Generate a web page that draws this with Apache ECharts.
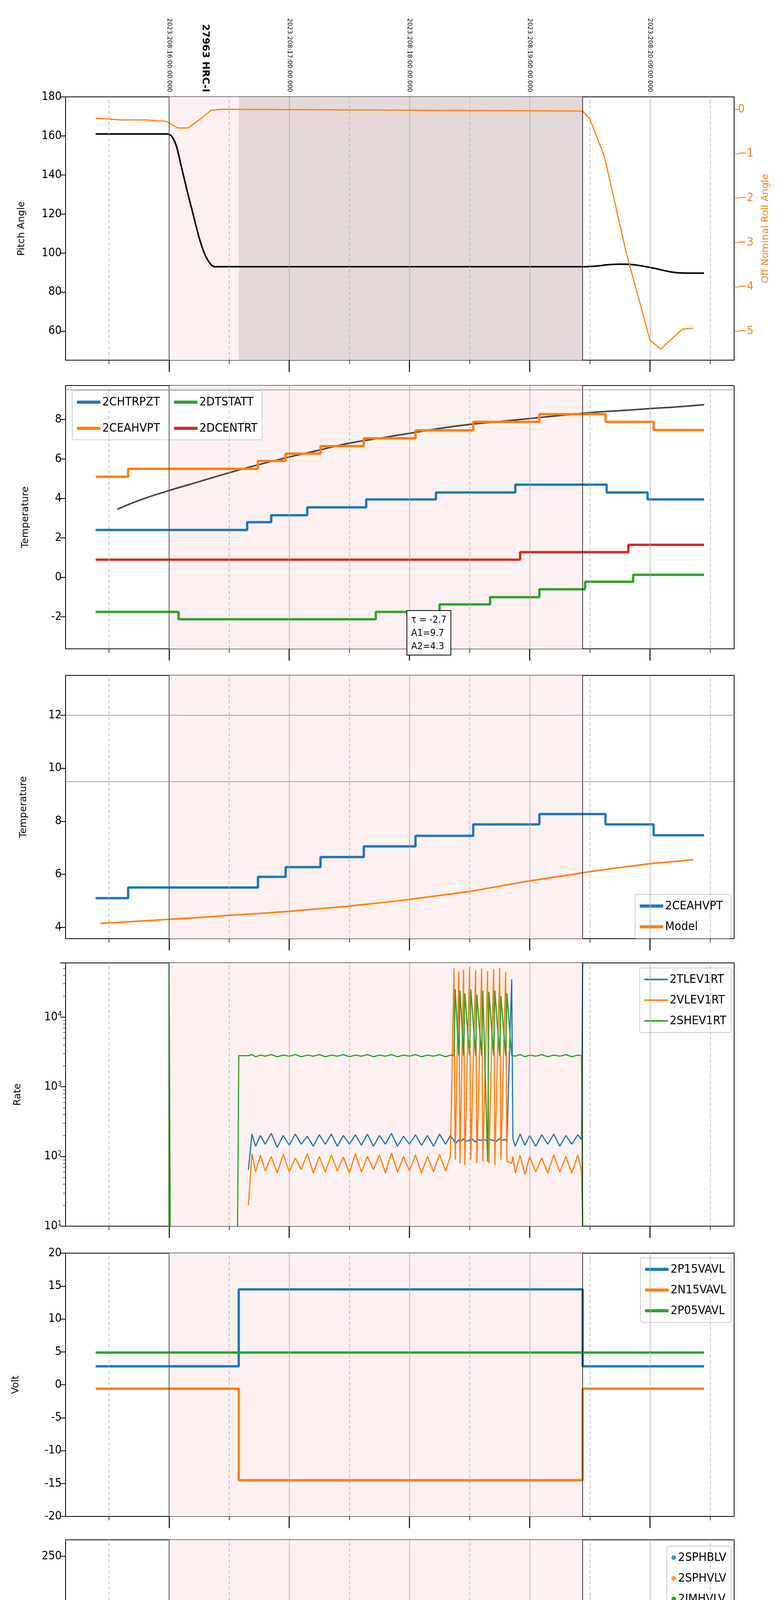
<!DOCTYPE html>
<html>
<head>
<meta charset="utf-8">
<script src="https://cdn.jsdelivr.net/npm/echarts@6/dist/echarts.min.js"></script>
<style>
  html, body { margin: 0; padding: 0; background: #fff; }
  #chart { width: 2000px; height: 6200px; }
</style>
</head>
<body>
<div id="chart"></div>
<script>
// --- データ (時間は時 単位) ---
const hourTicks = [12, 13, 14, 15, 16];
const hourLabels = ['12h', '13h', '14h', '15h', '16h'];
const halfTicks = [11.5, 12.5, 13.5, 14.5, 15.5, 16.5];
const topLabels = ['2023:208:16:00:00.000', '2023:208:17:00:00.000', '2023:208:18:00:00.000', '2023:208:19:00:00.000', '2023:208:20:00:00.000'];
const obsLabel = '27963 HRC-I';
const obsTime = 12.3;
const obsStart = 12.0, obsEnd = 15.44, hvStart = 12.58;

// パネル1
const pitchT = [11.39, 11.98, 12.02, 12.06, 12.1, 12.15, 12.2, 12.25, 12.3, 12.35, 12.38, 15.44, 15.55, 15.65, 15.75, 15.85, 15.95, 16.05, 16.15, 16.25, 16.45];
const pitchV = [161, 161, 160, 155, 145, 132, 120, 108, 99, 94, 93, 93, 93.3, 94.0, 94.3, 94.1, 93.2, 92.0, 90.6, 89.8, 89.7];
const rollT = [11.39, 11.6, 11.8, 11.98, 12.07, 12.16, 12.27, 12.35, 12.43, 15.44, 15.5, 15.62, 15.8, 16.0, 16.09, 16.27, 16.36];
const rollV = [-0.2, -0.24, -0.24, -0.27, -0.42, -0.42, -0.2, -0.02, 0, -0.04, -0.22, -1.05, -3.2, -5.2, -5.4, -4.95, -4.93];

// パネル2
const fitT = [11.57, 11.75, 12.0, 12.25, 12.5, 12.75, 13.0, 13.25, 13.5, 13.75, 14.0, 14.25, 14.5, 14.75, 15.0, 15.25, 15.5, 15.75, 16.0, 16.25, 16.45];
const fitV = [3.45, 3.9, 4.4, 4.85, 5.3, 5.72, 6.1, 6.45, 6.8, 7.05, 7.3, 7.55, 7.75, 7.9, 8.05, 8.2, 8.35, 8.45, 8.55, 8.65, 8.75];
const chtrpztT = [11.39, 12.65, 12.85, 13.15, 13.64, 14.22, 14.88, 15.64, 15.98, 16.45];
const chtrpztV = [2.4, 2.8, 3.15, 3.55, 3.95, 4.3, 4.7, 4.3, 3.95, 3.95];
const ceahvptT = [11.39, 11.66, 12.74, 12.97, 13.26, 13.62, 14.05, 14.53, 15.08, 15.63, 16.03, 16.45];
const ceahvptV = [5.1, 5.5, 5.9, 6.27, 6.65, 7.05, 7.45, 7.88, 8.27, 7.88, 7.47, 7.47];
const dtstattT = [11.39, 12.08, 13.72, 14.25, 14.67, 15.08, 15.46, 15.86, 16.45];
const dtstattV = [-1.75, -2.12, -1.75, -1.37, -1.0, -0.6, -0.22, 0.13, 0.13];
const dcentrtT = [11.39, 14.92, 15.82, 16.45];
const dcentrtV = [0.9, 1.28, 1.65, 1.65];
const fitText = 'τ = -2.7\nA1=9.7\nA2=4.3';

// パネル3
const modelT = [11.43, 11.7, 12.0, 12.25, 12.5, 12.75, 13.0, 13.25, 13.5, 13.75, 14.0, 14.25, 14.5, 14.75, 15.0, 15.25, 15.5, 15.75, 16.0, 16.2, 16.36];
const modelV = [4.15, 4.22, 4.3, 4.37, 4.45, 4.52, 4.6, 4.7, 4.8, 4.92, 5.05, 5.2, 5.35, 5.55, 5.75, 5.92, 6.1, 6.25, 6.4, 6.48, 6.55];

// パネル4 (レート)
const rateT = [12.57, 12.58, 12.66, 12.69, 12.72, 12.76, 12.8, 12.85, 12.9, 12.95, 13.0, 13.05, 13.1, 13.15, 13.2, 13.25, 13.3, 13.35, 13.4, 13.45,
  13.5, 13.55, 13.6, 13.65, 13.7, 13.75, 13.8, 13.85, 13.9, 13.95, 14.0, 14.05, 14.1, 14.15, 14.2, 14.25, 14.3, 14.34,
  14.37, 14.38, 14.41, 14.42, 14.45, 14.46, 14.5, 14.51, 14.55, 14.56, 14.6, 14.61, 14.65, 14.66, 14.7, 14.71, 14.75, 14.76, 14.8, 14.81,
  14.85, 14.86, 14.88, 14.92, 14.96, 15.0, 15.05, 15.1, 15.15, 15.2, 15.25, 15.3, 15.35, 15.4, 15.43, 15.44];
const tlev1rtV = [null, null, 65, 210, 140, 200, 150, 215, 135, 200, 145, 210, 150, 195, 140, 205, 150, 210, 140, 200,
  150, 205, 145, 210, 140, 200, 150, 215, 140, 195, 150, 205, 145, 200, 140, 210, 150, 200,
  170, 150, 175, 160, 180, 165, 170, 185, 160, 175, 170, 180, 165, 175, 170, 160, 180, 170, 175, 160,
  35000, 180, 140, 210, 145, 200, 140, 205, 150, 210, 140, 200, 150, 205, 175, 60000];
const vlev1rtV = [null, null, 20, 110, 60, 105, 62, 100, 58, 108, 60, 95, 65, 110, 58, 100, 60, 105, 62, 98,
  58, 110, 60, 100, 65, 105, 58, 112, 60, 100, 62, 105, 58, 100, 60, 108, 62, 100,
  50000, 90, 45000, 80, 48000, 75, 52000, 90, 47000, 80, 50000, 85, 46000, 80, 49000, 75, 51000, 90, 45000, 85,
  80, 100, 58, 105, 55, 100, 60, 95, 58, 105, 60, 100, 58, 105, 62, 10];
const shev1rtV = [10, 2800, 2800, 2900, 2700, 2850, 2750, 2900, 2700, 2850, 2750, 2900, 2700, 2850, 2750, 2900, 2700, 2850, 2750, 2900,
  2700, 2850, 2750, 2900, 2700, 2850, 2750, 2900, 2700, 2850, 2750, 2900, 2700, 2850, 2750, 2900, 2700, 2850,
  2800, 25000, 2800, 24000, 2800, 22000, 2800, 25000, 2800, 21000, 2800, 24000, 85, 23000, 2800, 24000, 2800, 20000, 2800, 22000,
  2800, 2800, 2750, 2900, 2700, 2850, 2750, 2900, 2700, 2850, 2750, 2900, 2700, 2850, 2800, 10];
const shevSpikeT = [11.99, 12.0, 12.0, 12.01];
const shevSpikeV = [10, 10, 60000, 10];

// パネル5 (電圧)
const voltT = [11.39, 12.58, 15.44, 16.45];
const p15V = [2.8, 14.5, 2.8, 2.8];
const n15V = [-0.6, -14.5, -0.6, -0.6];
const p05V = [4.9, 4.9, 4.9, 4.9];

// パネル6 (HV)
const imhvlvT = [12.58, 12.59, 12.6, 12.61, 12.63, 14.40, 14.44, 14.53, 14.67, 14.68];
const imhvlvV = [100, 95, 90, 85, 82, 127, 127, 127, 127, 127];
const imhvlvFlatT = [12.65, 15.44];
const imhvlvFlatV = [79, 79];
const imhblvT = [12.6, 12.6, 12.605, 12.61, 12.612, 12.62, 12.63, 12.64, 14.40, 14.44, 14.52, 14.53, 14.67, 14.68];
const imhblvV = [127, 125, 119, 107, 105, 96, 92, 88, 79, 79, 79, 79, 79, 79];
const imhblvFlatT = [12.66, 15.44];
const imhblvFlatV = [86, 86];

// パネル7 (検出器温度)
const imhvatmT = [12.58, 12.58, 12.73, 12.84, 12.95, 13.06, 13.16, 13.29, 13.44, 13.62, 13.83, 14.07, 14.36, 14.39, 14.42, 14.45, 14.48, 14.51, 14.54, 14.57, 14.6, 14.63, 14.66, 14.69, 14.72, 14.75, 14.78, 14.84, 14.86, 14.87, 14.88, 15.07, 15.44, 15.44, 15.44];
const imhvatmV = [0, 14.1, 14.4, 14.7, 14.95, 15.25, 15.55, 15.8, 16.05, 16.35, 16.65, 16.95, 17.3, 16.0, 17.3, 16.0, 17.3, 16.0, 17.3, 16.0, 17.3, 16.0, 17.3, 16.0, 17.5, 16.1, 17.5, 11, 17.5, 11, 17.5, 17.8, 17.8, 0, 19.5];
const sphvatmT = [12.58, 12.58, 13.07, 13.47, 13.85, 14.15, 14.36, 14.39, 14.42, 14.45, 14.48, 14.51, 14.54, 14.57, 14.6, 14.63, 14.66, 14.69, 14.72, 14.75, 14.78, 14.84, 14.86, 14.88, 14.885, 15.10, 15.44];
const sphvatmV = [0, 14.7, 15.0, 15.3, 15.55, 15.8, 10.6, 16.0, 10.6, 16.0, 10.6, 16.0, 10.6, 16.0, 10.6, 16.0, 10.6, 16.0, 10.6, 16.0, 16.1, 10.8, 16.1, 0, 16.1, 16.4, 16.4];
const spinatmT = [12.58, 13.0, 14.36, 14.39, 14.42, 14.45, 14.48, 14.51, 14.54, 14.57, 14.6, 14.63, 14.66, 14.69, 14.72, 14.75, 14.78, 14.83, 14.84, 15.44];
const spinatmV = [2.8, 3.25, 0, 3.3, 0, 3.3, 0, 3.3, 0, 3.3, 0, 3.3, 0, 3.3, 0, 3.3, 3.7, 0, 3.7, 3.7];
const iminatmT = [12.58, 12.6, 14.36, 14.39, 14.42, 14.45, 14.48, 14.51, 14.54, 14.57, 14.6, 14.63, 14.66, 14.69, 14.72, 14.75, 14.78, 14.87, 14.875, 15.44];
const iminatmV = [1.5, 1.95, 3.3, 1.9, 3.3, 1.9, 3.3, 1.9, 3.3, 1.9, 3.3, 1.9, 3.3, 1.9, 3.3, 1.9, 2.35, 0, 2.35, 2.35];

// パネル8 (FEA温度)
const fhtrmztT = [11.39, 11.61, 12.92, 13.11, 13.29, 13.47, 13.67, 13.86, 14.06, 14.28, 14.55, 14.77, 14.97, 15.22, 15.48, 15.66, 15.95, 16.26, 16.45];
const fhtrmztV = [-4.05, -4.45, -4.05, -3.65, -3.28, -2.9, -2.5, -2.12, -1.75, -1.38, -1.0, -0.63, -0.25, 0.13, 0.5, 0.13, -0.25, -0.63, -0.63];
const fradpytT = [11.39, 11.52, 12.43, 12.63, 12.70, 12.97, 13.18, 13.38, 13.59, 13.82, 14.04, 14.28, 14.6, 14.78, 15.06, 15.33, 15.68, 16.37, 16.45];
const fradpytV = [-6.0, -6.4, -6.8, -7.2, -6.8, -6.4, -6.0, -5.6, -5.2, -4.85, -4.45, -4.05, -3.7, -3.3, -2.9, -2.5, -2.9, -3.3, -3.3];
const feopratmT = [12.58, 12.66, 12.73, 12.80, 12.88, 12.97, 13.1, 13.22, 13.36, 13.53, 13.72, 13.88, 14.06, 14.2, 14.36, 14.39, 14.42, 14.45, 14.48, 14.51, 14.54, 14.57, 14.6, 14.63, 14.66, 14.69, 14.72, 14.75, 14.78, 14.81, 14.83, 14.92, 15.14, 15.44];
const feopratmV = [-3.45, -3.05, -2.62, -2.25, -1.85, -1.42, -1.02, -0.6, -0.2, 0.22, 0.62, 1.05, 1.48, 1.7, -4.6, 1.9, -4.6, 1.9, -4.6, 2.0, -4.6, 2.0, -4.6, 2.0, -4.6, 2.3, -4.6, 2.3, -4.6, 2.3, 2.3, 2.8, 3.25, 3.25];
const fe00atmT = [12.58, 12.58, 12.75, 12.88, 13.03, 13.14, 13.26, 13.38, 13.52, 13.67, 13.79, 13.92, 14.0, 14.17, 14.36, 14.39, 14.42, 14.45, 14.48, 14.51, 14.54, 14.57, 14.6, 14.63, 14.66, 14.69, 14.72, 14.75, 14.78, 14.82, 14.85, 14.855, 14.92, 15.08, 15.24, 15.41, 15.44, 15.44, 15.44];
const fe00atmV = [-8, -2.1, -1.75, -1.4, -1.1, -0.78, -0.45, -0.15, 0.15, 0.48, 0.78, 1.1, 1.4, 1.7, 3.9, 1.7, 3.9, 1.7, 3.9, 1.9, 3.9, 1.9, 3.9, 1.9, 3.9, 1.9, 3.9, 2.3, 3.9, 1.95, -8, 2.3, 2.6, 2.95, 3.25, 3.25, -8, 4, 4];

// --- 補助 ---
const C = { blue: '#1f77b4', orange: '#ff7f0e', green: '#2ca02c', red: '#d62728' };
const NARROW = "'Liberation Sans Narrow', 'DejaVu Sans Condensed', sans-serif";
const WIDE = "'DejaVu Sans', sans-serif";
const X_MIN = 11.14, X_MAX = 16.70;
const tops = [248, 987, 1729, 2465, 3208, 3942, 4686, 5421];
const H = 674;

function zip(t, v) { return t.map((x, i) => [x, v[i]]); }

const grids = [], xAxes = [], yAxes = [], series = [], legends = [];

tops.forEach((top, i) => {
  grids.push({ left: 168, right: 120, top: top, height: H, show: true, borderColor: '#000', borderWidth: 2, backgroundColor: 'transparent' });
  const last = i === tops.length - 1;
  // 主目盛 (時)
  xAxes.push({
    type: 'value', gridIndex: i, min: X_MIN, max: X_MAX, position: 'bottom',
    axisLine: { show: true, onZero: false, lineStyle: { color: '#000', width: 2 } },
    axisTick: { show: true, customValues: hourTicks, length: 30, lineStyle: { color: '#000', width: 2.5 } },
    axisLabel: {
      show: last, customValues: hourTicks, margin: 56, fontSize: 32, fontFamily: NARROW, color: '#000',
      formatter: v => hourLabels[hourTicks.indexOf(Math.round(v))] || ''
    },
    splitLine: { show: false },
    name: last ? '2023-07-27 (208)' : '', nameLocation: 'middle', nameGap: 100,
    nameTextStyle: { fontSize: 34, fontFamily: NARROW, color: '#000' }
  });
  // 副目盛 (30分)
  xAxes.push({
    type: 'value', gridIndex: i, min: X_MIN, max: X_MAX, position: 'bottom',
    axisLine: { show: false, onZero: false },
    axisTick: { show: true, customValues: halfTicks, length: 10, lineStyle: { color: '#000', width: 1.5 } },
    axisLabel: { show: last, customValues: halfTicks, margin: 14, fontSize: 19, fontFamily: NARROW, color: '#000', formatter: () => '30' },
    splitLine: { show: false }
  });
});
// 上部ラベル
xAxes.push({
  type: 'value', gridIndex: 0, position: 'top', min: X_MIN, max: X_MAX,
  axisLine: { show: false, onZero: false }, axisTick: { show: false }, splitLine: { show: false },
  axisLabel: {
    customValues: hourTicks.concat([obsTime]), rotate: 90, margin: 12, color: '#000',
    formatter: v => {
      if (Math.abs(v - obsTime) < 0.01) return '{b|' + obsLabel + '}';
      return '{s|' + (topLabels[hourTicks.indexOf(Math.round(v))] || '') + '}';
    },
    rich: {
      s: { fontSize: 16, fontFamily: WIDE, color: '#000' },
      b: { fontSize: 25, fontFamily: WIDE, fontWeight: 'bold', color: '#000' }
    }
  }
});

function yAx(grid, min, max, ticks, name, extra) {
  return Object.assign({
    type: 'value', gridIndex: grid, min: min, max: max, position: 'left',
    axisLine: { show: true, onZero: false, lineStyle: { color: '#000', width: 2 } },
    axisTick: { show: true, customValues: ticks, length: 14, lineStyle: { color: '#000', width: 2 } },
    axisLabel: { customValues: ticks, fontSize: 30, fontFamily: NARROW, color: '#000', margin: 10 },
    splitLine: { show: false },
    name: name, nameLocation: 'middle', nameGap: 100, nameRotate: 90,
    nameTextStyle: { fontSize: 25, fontFamily: WIDE, color: '#000' }
  }, extra || {});
}

yAxes.push(yAx(0, 45.1, 180, [60, 80, 100, 120, 140, 160, 180], 'Pitch Angle'));                     // 0
yAxes.push(yAx(0, -5.65, 0.28, [-5, -4, -3, -2, -1, 0], 'Off Nominal Roll Angle', {                     // 1
  position: 'right', nameGap: 68, nameRotate: 90,
  axisLine: { show: true, onZero: false, lineStyle: { color: '#000', width: 2 } },
  axisTick: { show: true, customValues: [-5, -4, -3, -2, -1, 0], length: 14, lineStyle: { color: C.orange, width: 2 } },
  axisLabel: { customValues: [-5, -4, -3, -2, -1, 0], fontSize: 30, fontFamily: NARROW, color: C.orange, margin: 10, formatter: v => v < 0 ? '\u2212' + (-v) : String(v) },
  nameTextStyle: { fontSize: 25, fontFamily: WIDE, color: C.orange }
}));
yAxes.push(yAx(1, -3.62, 9.72, [-2, 0, 2, 4, 6, 8], 'Temperature', { nameGap: 90 }));                    // 2
yAxes.push(yAx(2, 3.57, 13.5, [4, 6, 8, 10, 12], 'Temperature', { nameGap: 95 }));                        // 3
yAxes.push({                                                                                               // 4
  type: 'log', gridIndex: 3, min: 10, max: 60000, logBase: 10,
  axisLine: { show: true, onZero: false, lineStyle: { color: '#000', width: 2 } },
  axisTick: { show: true, length: 14, lineStyle: { color: '#000', width: 2 } },
  minorTick: { show: true, splitNumber: 9, length: 7, lineStyle: { color: '#000' } },
  axisLabel: {
    fontSize: 30, fontFamily: NARROW, color: '#000', margin: 10, showMaxLabel: false,
    formatter: v => v > 20000 ? '' : '10{sup|' + Math.round(Math.log10(v)) + '}',
    rich: { sup: { fontSize: 18, fontFamily: NARROW, verticalAlign: 'top', padding: [0, 0, 14, 0] } }
  },
  splitLine: { show: false },
  name: 'Rate', nameLocation: 'middle', nameGap: 110, nameRotate: 90,
  nameTextStyle: { fontSize: 25, fontFamily: WIDE, color: '#000' }
});
yAxes.push(yAx(4, -20, 20, [-20, -15, -10, -5, 0, 5, 10, 15, 20], 'Volt', { nameGap: 115 }));             // 5
yAxes.push(yAx(5, 0, 266.5, [0, 50, 100, 150, 200, 250], 'HV Monitor', { nameGap: 100 }));                // 6
yAxes.push(yAx(6, 0.6, 19.0, [2.5, 5, 7.5, 10, 12.5, 15, 17.5], 'Detector Temp', {                       // 7
  nameGap: 115,
  axisLabel: { customValues: [2.5, 5, 7.5, 10, 12.5, 15, 17.5], fontSize: 30, fontFamily: NARROW, color: '#000', margin: 10, formatter: v => v.toFixed(1) }
}));
yAxes.push(yAx(7, -7.5, 3.87, [-6, -4, -2, 0, 2], 'FEA Temp', { nameGap: 100 }));                         // 8

// 各パネルの背景 (網掛け・グリッド線)
const panelY = [0, 2, 3, 4, 5, 6, 7, 8];
panelY.forEach((yi, i) => {
  const areas = [[{ xAxis: obsStart, itemStyle: { color: '#fdf0f0' } }, { xAxis: obsEnd }]];
  if (i === 0) areas.push([{ xAxis: hvStart, itemStyle: { color: '#e4d8d8' } }, { xAxis: obsEnd }]);
  const lines = [];
  hourTicks.forEach(h => lines.push({ xAxis: h, lineStyle: { color: '#aaaaaa', width: 1.5, type: 'solid' } }));
  halfTicks.forEach(h => lines.push({ xAxis: h, lineStyle: { color: '#aaaaaa', width: 1.5, type: [8, 6] } }));
  lines.push({ xAxis: obsStart, lineStyle: { color: '#333', width: 1.5, type: 'solid' } });
  lines.push({ xAxis: obsEnd, lineStyle: { color: '#000', width: 1.5, type: 'solid' } });
  if (i === 1) lines.push({ yAxis: 9.5, lineStyle: { color: '#888', width: 1.5, type: 'solid' } });
  if (i === 2) {
    lines.push({ yAxis: 12, lineStyle: { color: '#888', width: 1.5, type: 'solid' } });
    lines.push({ yAxis: 9.5, lineStyle: { color: '#888', width: 1.5, type: 'solid' } });
  }
  series.push({
    type: 'line', xAxisIndex: i * 2, yAxisIndex: yi, data: [], z: 1, silent: true,
    markArea: { silent: true, data: areas },
    markLine: { silent: true, symbol: 'none', label: { show: false }, data: lines }
  });
});

function stepLine(name, t, v, color, xi, yi, width, extra) {
  return Object.assign({
    name: name, type: 'line', xAxisIndex: xi, yAxisIndex: yi, data: zip(t, v), step: 'end',
    showSymbol: false, clip: true, z: 3, lineStyle: { color: color, width: width }, itemStyle: { color: color }
  }, extra || {});
}
function plainLine(name, t, v, color, xi, yi, width, extra) {
  return Object.assign({
    name: name, type: 'line', xAxisIndex: xi, yAxisIndex: yi, data: zip(t, v),
    showSymbol: false, clip: true, z: 3, lineStyle: { color: color, width: width }, itemStyle: { color: color }
  }, extra || {});
}

// パネル1
series.push(plainLine('Pitch', pitchT, pitchV, '#000', 0, 0, 4, { smooth: 0.3 }));
series.push(plainLine('Roll', rollT, rollV, C.orange, 0, 1, 3));
// パネル2
series.push(plainLine('Fit', fitT, fitV, '#444', 2, 2, 4, { smooth: true }));
series.push(stepLine('2CHTRPZT', chtrpztT, chtrpztV, C.blue, 2, 2, 6));
series.push(stepLine('2CEAHVPT', ceahvptT, ceahvptV, C.orange, 2, 2, 6));
series.push(stepLine('2DTSTATT', dtstattT, dtstattV, C.green, 2, 2, 6));
series.push(stepLine('2DCENTRT', dcentrtT, dcentrtV, C.red, 2, 2, 6));
// パネル3
series.push(stepLine('2CEAHVPT ', ceahvptT, ceahvptV, C.blue, 4, 3, 6));
series.push(plainLine('Model', modelT, modelV, C.orange, 4, 3, 4));
// パネル4
series.push(plainLine('2TLEV1RT', rateT, tlev1rtV, C.blue, 6, 4, 3));
series.push(plainLine('2VLEV1RT', rateT, vlev1rtV, C.orange, 6, 4, 3));
series.push(plainLine('2SHEV1RT', rateT, shev1rtV, C.green, 6, 4, 3));
series.push(plainLine('2SHEV1RT', shevSpikeT, shevSpikeV, C.green, 6, 4, 3));
// パネル5
series.push(stepLine('2P15VAVL', voltT, p15V, C.blue, 8, 5, 6));
series.push(stepLine('2N15VAVL', voltT, n15V, C.orange, 8, 5, 6));
series.push(stepLine('2P05VAVL', voltT, p05V, C.green, 8, 5, 6));
// パネル6
series.push({ name: '2SPHBLV', type: 'scatter', xAxisIndex: 10, yAxisIndex: 6, data: [], itemStyle: { color: C.blue } });
series.push({ name: '2SPHVLV', type: 'scatter', xAxisIndex: 10, yAxisIndex: 6, data: [], itemStyle: { color: C.orange } });
series.push(plainLine('2IMHVLV', imhvlvFlatT, imhvlvFlatV, C.green, 10, 6, 11));
series.push({ name: '2IMHVLV', type: 'scatter', xAxisIndex: 10, yAxisIndex: 6, z: 4, symbolSize: 10, data: zip(imhvlvT, imhvlvV), itemStyle: { color: C.green } });
series.push(plainLine('2IMHBLV', imhblvFlatT, imhblvFlatV, C.red, 10, 6, 11));
series.push({ name: '2IMHBLV', type: 'scatter', xAxisIndex: 10, yAxisIndex: 6, z: 4, symbolSize: 10, data: zip(imhblvT, imhblvV), itemStyle: { color: C.red } });
// パネル7
series.push(stepLine('2SPINATM', spinatmT, spinatmV, C.blue, 12, 7, 6));
series.push(stepLine('2SPHVATM', sphvatmT, sphvatmV, C.orange, 12, 7, 6));
series.push(stepLine('2IMINATM', iminatmT, iminatmV, C.green, 12, 7, 6));
series.push(stepLine('2IMHVATM', imhvatmT, imhvatmV, C.red, 12, 7, 6));
// パネル8
series.push(stepLine('2FHTRMZT', fhtrmztT, fhtrmztV, C.blue, 14, 8, 8));
series.push(stepLine('2FRADPYT', fradpytT, fradpytV, C.orange, 14, 8, 8));
series.push(stepLine('2FEPRATM', feopratmT, feopratmV, C.green, 14, 8, 8));
series.push(stepLine('2FE00ATM', fe00atmT, fe00atmV, C.red, 14, 8, 8));

// 凡例
function legend(names, opts, icon) {
  return Object.assign({
    data: names, orient: 'vertical', icon: icon || 'rect', itemWidth: 60, itemHeight: 8, itemGap: 22,
    backgroundColor: 'rgba(255,255,255,0.9)', borderColor: '#ccc', borderWidth: 2, borderRadius: 5,
    padding: [14, 12, 14, 12], selectedMode: false,
    textStyle: { fontSize: 31, fontFamily: NARROW, color: '#000' }
  }, opts);
}
legends.push(legend(['2CHTRPZT', '2DTSTATT', '2CEAHVPT', '2DCENTRT'], { orient: 'horizontal', left: 185, top: 1000, width: 540, itemGap: 36 }));
legends.push(legend(['2CEAHVPT ', 'Model'], { right: 128, top: 2290 }));
legends.push(legend(['2TLEV1RT', '2VLEV1RT', '2SHEV1RT'], { right: 128, top: 2478, itemHeight: 4 }));
legends.push(legend(['2P15VAVL', '2N15VAVL', '2P05VAVL'], { right: 128, top: 3220 }));
legends.push(legend(['2SPHBLV', '2SPHVLV', '2IMHVLV', '2IMHBLV'], { right: 128, top: 3958, itemWidth: 12, itemHeight: 12, icon: 'circle' }));
legends.push(legend(['2SPINATM', '2SPHVATM', '2IMINATM', '2IMHVATM'], { right: 128, top: 4700 }));
legends.push(legend(['2FHTRMZT', '2FRADPYT', '2FEPRATM', '2FE00ATM'], { right: 128, top: 5432, itemHeight: 12, itemGap: 28 }));

const chart = echarts.init(document.getElementById('chart'), null, { renderer: 'canvas' });
chart.setOption({
  backgroundColor: '#fff',
  animation: false,
  grid: grids,
  xAxis: xAxes,
  yAxis: yAxes,
  legend: legends,
  series: series,
  graphic: [{
    type: 'text', left: 1041, top: 1562, z: 100,
    style: {
      text: fitText, fontSize: 25, fontFamily: NARROW, fill: '#000', lineHeight: 34,
      backgroundColor: '#fff', borderColor: '#000', borderWidth: 2, padding: [6, 10, 4, 10]
    }
  }]
});
</script>
</body>
</html>
